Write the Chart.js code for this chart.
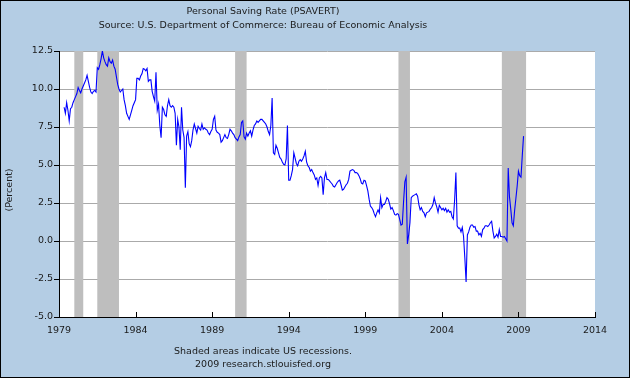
<!DOCTYPE html>
<html>
<head>
<meta charset="utf-8">
<script src="https://cdn.jsdelivr.net/npm/chart.js@4.4.1/dist/chart.umd.min.js"></script>
<style>
  html, body { margin: 0; padding: 0; background: #b4cde4; }
  #wrap { width: 630px; height: 378px; }
</style>
</head>
<body>
<div id="wrap"><canvas id="savingChart" width="630" height="378"></canvas></div>
<script>
const TITLE = "Personal Saving Rate (PSAVERT)";
const SUBTITLE = "Source: U.S. Department of Commerce: Bureau of Economic Analysis";
const FOOTNOTE = "Shaded areas indicate US recessions.";
const CREDIT = "2009 research.stlouisfed.org";
const Y_LABEL = "(Percent)";

// monthly values, first one is May 1979
const START_YEAR = 1979;
const START_MONTH = 5;
const savingRate = [
  8.8, 8.4, 9.1, 8.6, 7.9, 8.7, 8.8, 9.1,
  9.3, 9.5, 9.7, 10.1, 9.9, 9.75, 10.0, 10.2, 10.4, 10.6, 10.9, 10.5,
  10.1, 9.8, 9.7, 9.85, 9.9, 9.8, 11.4, 11.3, 11.6, 12.0, 12.5, 12.05,
  11.8, 11.6, 11.5, 12.05, 11.8, 11.7, 11.9, 11.5, 11.3, 10.8, 10.3, 10.0,
  9.8, 9.9, 10.0, 9.3, 8.9, 8.4, 8.2, 8.0, 8.3, 8.6, 8.9, 9.1,
  9.3, 10.7, 10.7, 10.6, 10.85, 11.0, 11.35, 11.3, 11.2, 11.35, 10.5, 10.6,
  10.6, 9.85, 9.5, 9.2, 11.1, 8.6, 9.0, 7.6, 6.8, 8.8, 8.65, 8.3,
  8.2, 8.9, 9.3, 8.9, 8.8, 8.9, 8.8, 8.4, 6.3, 8.0, 7.5, 6.0,
  8.8, 7.3, 6.8, 3.5, 6.9, 7.2, 6.4, 6.2, 6.6, 7.3, 7.7, 7.4,
  7.1, 7.55, 7.4, 7.3, 7.7, 7.35, 7.45, 7.35, 7.3, 7.1, 7.0, 7.2,
  7.35, 8.0, 8.2, 7.3, 7.15, 7.1, 7.0, 6.5, 6.6, 6.8, 7.0, 6.8,
  6.75, 7.0, 7.35, 7.25, 7.1, 7.0, 6.8, 6.7, 6.6, 6.85, 7.0, 7.8,
  7.9, 6.85, 6.7, 7.1, 6.9, 7.1, 7.25, 6.9, 7.3, 7.6, 7.7, 7.9,
  7.8, 7.9, 8.0, 8.0, 7.9, 7.8, 7.7, 7.5, 7.2, 7.0, 7.6, 9.4,
  5.8, 5.7, 6.3, 6.1, 5.8, 5.5, 5.4, 5.2, 5.05, 5.0, 5.4, 7.6,
  4.0, 4.0, 4.3, 4.7, 5.8, 5.45, 5.1, 4.95, 5.25, 5.35, 5.25, 5.4,
  5.6, 5.9, 5.2, 4.95, 4.85, 4.6, 4.7, 4.5, 4.35, 4.05, 4.15, 3.65,
  4.15, 4.25, 4.15, 3.05, 4.15, 4.5, 4.05, 4.05, 3.95, 3.85, 3.75, 3.6,
  3.55, 3.7, 3.85, 3.95, 4.0, 3.7, 3.35, 3.4, 3.55, 3.7, 3.8, 4.05,
  4.6, 4.65, 4.7, 4.65, 4.5, 4.5, 4.45, 4.3, 4.1, 3.8, 3.75, 4.0,
  3.95, 3.65, 3.3, 2.75, 2.3, 2.2, 2.05, 1.8, 1.6, 1.85, 2.05, 1.85,
  2.85, 2.2, 2.4, 2.4, 2.6, 2.85, 2.75, 2.45, 2.1, 2.2, 2.0, 1.75,
  1.7, 1.8, 1.75, 1.4, 1.05, 1.1, 2.6, 3.9, 4.2, -0.2, 0.4, 1.2,
  2.85, 2.95, 3.0, 3.05, 3.1, 2.95, 2.4, 2.05, 2.2, 1.95, 1.85, 1.6,
  1.85, 1.9, 1.95, 2.1, 2.2, 2.4, 2.85, 2.5, 2.25, 1.9, 2.35, 2.2,
  2.05, 2.15, 2.0, 2.15, 1.9, 2.05, 1.9, 1.95, 1.6, 1.45, 2.7, 4.5,
  1.0, 0.85, 0.85, 0.6, 0.9, 0.3, -1.1, -2.7, 0.4, 0.6, 0.9, 1.05,
  1.05, 0.9, 0.95, 0.65, 0.65, 0.4, 0.5, 0.3, 0.75, 0.85, 1.0, 1.0,
  0.95, 1.05, 1.2, 1.3, 0.65, 0.2, 0.3, 0.45, 0.25, 0.75, 0.3, 0.3,
  0.25, 0.3, 0.15, 0.0, 4.8, 2.9, 2.1, 1.2, 1.0, 2.0, 2.8, 3.6,
  4.6, 4.3, 4.2, 5.6, 6.9
];

const xTickYears = [1979, 1984, 1989, 1994, 1999, 2004, 2009, 2014];
const yTicks = [-5, -2.5, 0, 2.5, 5, 7.5, 10, 12.5];

const recessionStart = ["1980-01", "1981-07", "1990-07", "2001-03", "2007-12"];
const recessionEnd = ["1980-08", "1982-12", "1991-04", "2001-12", "2009-07"];

const FONT = "DejaVu Sans";
const TEXT_COLOR = "#1a1a1a";
const BG_COLOR = "#b4cde4";

function toYear(ym) {
  const parts = ym.split("-");
  return Number(parts[0]) + (Number(parts[1]) - 1) / 12;
}

const points = savingRate.map(function (v, i) {
  return { x: START_YEAR + (START_MONTH - 1 + i) / 12, y: v };
});

const fredFrame = {
  id: "fredFrame",
  beforeDraw(chart) {
    const { ctx, chartArea: a } = chart;
    ctx.save();
    ctx.fillStyle = BG_COLOR;
    ctx.fillRect(0, 0, chart.width, chart.height);
    ctx.fillStyle = "#ffffff";
    ctx.fillRect(a.left, a.top, a.right - a.left, a.bottom - a.top);
    ctx.restore();
  },
  beforeDatasetsDraw(chart) {
    // recession bars sit over the gridlines but under the series
    const { ctx, chartArea: a } = chart;
    const xs = chart.scales.x;
    ctx.save();
    ctx.fillStyle = "#bebebe";
    recessionStart.forEach(function (s, i) {
      const x0 = xs.getPixelForValue(toYear(s));
      const x1 = xs.getPixelForValue(toYear(recessionEnd[i]));
      ctx.fillRect(x0, a.top, x1 - x0, a.bottom - a.top);
    });
    ctx.restore();
  },
  afterDraw(chart) {
    const { ctx, chartArea: a } = chart;
    const xs = chart.scales.x;
    ctx.save();

    // axis lines and inward x ticks
    ctx.strokeStyle = "#000000";
    ctx.lineWidth = 1;
    ctx.beginPath();
    ctx.moveTo(a.left + 0.5, a.top);
    ctx.lineTo(a.left + 0.5, a.bottom + 0.5);
    ctx.lineTo(a.right, a.bottom + 0.5);
    xs.ticks.forEach(function (t) {
      const px = Math.round(xs.getPixelForValue(t.value)) + 0.5;
      ctx.moveTo(px, a.bottom);
      ctx.lineTo(px, a.bottom - 5);
    });
    ctx.stroke();

    ctx.fillStyle = TEXT_COLOR;
    ctx.font = "9.5px '" + FONT + "'";
    ctx.textAlign = "center";
    ctx.textBaseline = "middle";
    ctx.fillText(TITLE, 263, 11.5);
    ctx.fillText(SUBTITLE, 263, 25.5);
    ctx.fillText(FOOTNOTE, 263, 351.5);
    ctx.fillText(CREDIT, 263, 364.5);

    ctx.translate(10, 190);
    ctx.rotate(-Math.PI / 2);
    ctx.fillText(Y_LABEL, 0, 0);
    ctx.restore();

    ctx.save();
    ctx.strokeStyle = "#000000";
    ctx.strokeRect(0.5, 0.5, chart.width - 1, chart.height - 1);
    ctx.restore();
  }
};

new Chart(document.getElementById("savingChart"), {
  type: "line",
  data: {
    datasets: [
      {
        label: "PSAVERT",
        data: points,
        borderColor: "#0000ff",
        borderWidth: 1.1,
        pointRadius: 0,
        tension: 0,
        fill: false,
      },
    ],
  },
  options: {
    responsive: false,
    animation: false,
    devicePixelRatio: 1,
    layout: { padding: { top: 51, right: 35, left: 0, bottom: 0 } },
    scales: {
      x: {
        type: "linear",
        min: 1979,
        max: 2014,
        afterBuildTicks: function (s) {
          s.ticks = xTickYears.map(function (v) { return { value: v }; });
        },
        afterFit: function (s) { s.height = 61; },
        grid: { display: false, drawTicks: false },
        border: { display: true, color: "#000000" },
        ticks: {
          padding: 8,
          maxRotation: 0,
          autoSkip: false,
          color: TEXT_COLOR,
          font: { family: FONT, size: 9.5 },
          callback: function (v) { return String(v); },
        },
      },
      y: {
        min: -5,
        max: 12.5,
        afterBuildTicks: function (s) {
          s.ticks = yTicks.map(function (v) { return { value: v }; });
        },
        afterFit: function (s) { s.width = 59; },
        grid: { color: "#aaaaaa", tickColor: "#000000", tickLength: 5, lineWidth: 1 },
        border: { color: "#000000" },
        ticks: {
          padding: 1,
          color: TEXT_COLOR,
          font: { family: FONT, size: 9.5 },
          callback: function (v) { return Number(v).toFixed(1); },
        },
      },
    },
    plugins: {
      legend: { display: false },
      tooltip: { enabled: false },
    },
  },
  plugins: [fredFrame],
});
</script>
</body>
</html>
